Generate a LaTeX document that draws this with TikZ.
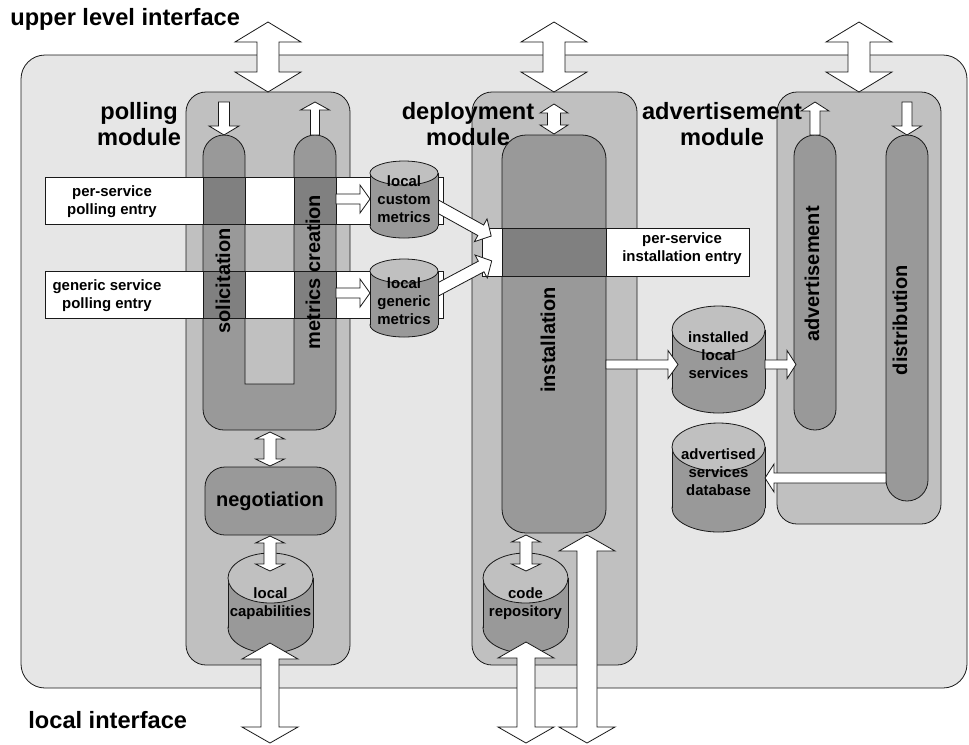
\documentclass[tikz,border=0pt]{standalone}
\usepackage{fontspec}
\setmainfont{Liberation Sans}

\definecolor{framegray}{HTML}{E6E6E6}
\definecolor{modgray}{HTML}{C0C0C0}
\definecolor{colgray}{HTML}{999999}
\definecolor{overgray}{HTML}{808080}

% block arrows: x, y top, y bottom, shaft half, head half, head length
\newcommand{\blkdbl}[6]{\filldraw[blk] (#1,#2) -- ({#1+#5},{#2+#6}) -- ({#1+#4},{#2+#6}) -- ({#1+#4},{#3-#6}) -- ({#1+#5},{#3-#6}) -- (#1,#3) -- ({#1-#5},{#3-#6}) -- ({#1-#4},{#3-#6}) -- ({#1-#4},{#2+#6}) -- ({#1-#5},{#2+#6}) -- cycle;}
\newcommand{\blkdown}[6]{\filldraw[blk] ({#1-#4},#2) -- ({#1+#4},#2) -- ({#1+#4},{#3-#6}) -- ({#1+#5},{#3-#6}) -- (#1,#3) -- ({#1-#5},{#3-#6}) -- ({#1-#4},{#3-#6}) -- cycle;}
\newcommand{\blkup}[6]{\filldraw[blk] (#1,#2) -- ({#1+#5},{#2+#6}) -- ({#1+#4},{#2+#6}) -- ({#1+#4},#3) -- ({#1-#4},#3) -- ({#1-#4},{#2+#6}) -- ({#1-#5},{#2+#6}) -- cycle;}
% x tail, x tip, y, shaft half, head half, head length (negative when pointing left)
\newcommand{\blkhoriz}[6]{\filldraw[blk] (#1,{#3-#4}) -- ({#2-#6},{#3-#4}) -- ({#2-#6},{#3-#5}) -- (#2,#3) -- ({#2-#6},{#3+#5}) -- ({#2-#6},{#3+#4}) -- (#1,{#3+#4}) -- cycle;}
% cylinder: x centre, y top centre, y bottom centre, x radius, y radius
\newcommand{\dbcyl}[5]{%
  \filldraw[fill=colgray] (#1,#3) ellipse [x radius=#4, y radius=#5];
  \fill[colgray] ({#1-#4},#2) rectangle ({#1+#4},#3);
  \draw ({#1-#4},#2) -- ({#1-#4},#3) ({#1+#4},#2) -- ({#1+#4},#3);
  \filldraw[fill=modgray] (#1,#2) ellipse [x radius=#4, y radius=#5];}

\begin{document}
\begin{tikzpicture}[x=0.75pt, y=-0.75pt, line width=0.6pt, draw=black!90,
	blk/.style={fill=white, draw=black!90, line join=miter},
	biglbl/.style={font=\bfseries\fontsize{17.7}{19.5}\selectfont, align=center, inner sep=0pt},
	collbl/.style={font=\bfseries\fontsize{15}{18}\selectfont, rotate=90, inner sep=0pt},
	lbl/.style={font=\bfseries\fontsize{11.2}{13.5}\selectfont, align=center, inner sep=0pt}]
	\useasboundingbox (0,0) rectangle (969,744);

	% frame and modules
	\filldraw[fill=framegray, rounded corners=18pt] (21,55) rectangle (967,688);
	\filldraw[fill=modgray, rounded corners=15pt] (186,92) rectangle (350,665);
	\filldraw[fill=modgray, rounded corners=15pt] (472,92) rectangle (637,665);
	\filldraw[fill=modgray, rounded corners=15pt] (777,92) rectangle (941,524);

	% columns
	\filldraw[fill=colgray] (294,300) -- (294,384) -- (245,384) -- (245,300) [rounded corners=15.75pt] -- (245,135) -- (203,135) -- (203,430) -- (336,430) -- (336,135) -- (294,135) -- cycle;
	\filldraw[fill=colgray, rounded corners=18pt] (502,135) rectangle (606,533);
	\filldraw[fill=colgray, rounded corners=15.75pt] (794,135) rectangle (836,430);
	\filldraw[fill=colgray, rounded corners=15.75pt] (886,135) rectangle (928,501);
	\filldraw[fill=colgray, rounded corners=15pt] (205,467) rectangle (336,535);

	% entries
	\filldraw[fill=white] (45,177) rectangle (443,224);
	\filldraw[fill=white] (45,271) rectangle (443,318);
	\filldraw[fill=white] (482,228) rectangle (749,276);
	\fill[overgray] (203,177) rectangle (245,224) (294,177) rectangle (336,224)
		(203,271) rectangle (245,318) (294,271) rectangle (336,318) (502,228) rectangle (606,276);
	\draw (45,177) rectangle (443,224) (45,271) rectangle (443,318) (482,228) rectangle (749,276);
	\foreach \x in {203,245,294,336}
		\draw (\x,177) -- (\x,224) (\x,271) -- (\x,318);
	\draw (502,228) -- (502,276) (606,228) -- (606,276);

	% metrics to installation entry
	\begin{scope}[shift={(426.5,200.2)}, rotate=-29]
		\blkhoriz{0}{74}{0}{6}{13}{12}
	\end{scope}
	\begin{scope}[shift={(426.4,295.6)}, rotate=28]
		\blkhoriz{0}{74}{0}{6}{13}{12}
	\end{scope}

	% databases
	\dbcyl{404}{173}{226}{34}{12}
	\dbcyl{404}{271}{325}{34}{12}
	\dbcyl{718.5}{330}{389}{46.5}{24}
	\dbcyl{718.5}{447}{508}{46.5}{24}
	\dbcyl{270.5}{578}{628}{42.5}{25}
	\dbcyl{525.5}{578}{628}{42.5}{25}

	% arrows
	\foreach \x in {268,554,859} {
		\blkdbl{\x}{22}{92}{11}{33}{20}
	}
	\blkdown{224}{102}{135}{5.5}{15}{9}
	\blkup{315}{102}{135}{4.5}{14.5}{8}
	\blkdbl{554}{104}{134}{6.5}{14}{9}
	\blkup{815}{102}{135}{5}{14}{9}
	\blkdown{907}{102}{135}{5}{14.5}{9}
	\blkhoriz{336}{370}{199}{5}{14}{10}
	\blkhoriz{336}{370}{293}{5}{14}{10}
	\blkhoriz{606}{678}{364.5}{4.5}{14}{10}
	\blkhoriz{765}{796}{364.5}{4.5}{14}{9}
	\blkhoriz{886}{765}{478}{5}{14}{-9}
	\blkdbl{270}{432}{466}{6}{14.5}{7}
	\blkdbl{270}{536}{571}{6}{14.5}{7}
	\blkdbl{526}{535}{571}{6}{14.5}{7}
	\blkdbl{270}{643}{743}{9}{28}{16}
	\blkdbl{526}{642}{743}{9}{28}{16}
	\blkdbl{587}{535}{743}{10}{28}{16}

	% labels
	\node[biglbl, anchor=base west] (upper) at (10,25) {upper level interface};
	\node[biglbl, anchor=base west] (local) at (28,728) {local interface};
	\node[biglbl] (pollmod) at (139,124) {polling\\module};
	\node[biglbl] (depmod) at (468,124) {deployment\\module};
	\node[biglbl] (advmod) at (722,124) {advertisement\\module};
	\node[collbl] (solic) at (223,281) {solicitation};
	\node[collbl] (metcre) at (313,272) {metrics creation};
	\node[collbl] (instal) at (548,340) {installation};
	\node[collbl] (advert) at (812,274) {advertisement};
	\node[collbl] (distr) at (900,320) {distribution};
	\node[font=\bfseries\fontsize{15}{18}\selectfont, inner sep=0pt] (negot) at (270,501) {negotiation};
	\node[lbl] (perpoll) at (112,202) {per-service\\polling entry};
	\node[lbl] (genpoll) at (107,296) {generic service\\polling entry};
	\node[lbl] (perinst) at (682,249) {per-service\\installation entry};
	\node[lbl] (custom) at (404,199) {local\\custom\\metrics};
	\node[lbl] (generic) at (404,301) {local\\generic\\metrics};
	\node[lbl] (installed) at (718.5,355) {installed\\local\\services};
	\node[lbl] (advdb) at (718.5,472) {advertised\\services\\database};
	\node[lbl] (capab) at (270.5,604) {local\\capabilities};
	\node[lbl] (coderep) at (525.5,604) {code\\repository};

\end{tikzpicture}
\end{document}
